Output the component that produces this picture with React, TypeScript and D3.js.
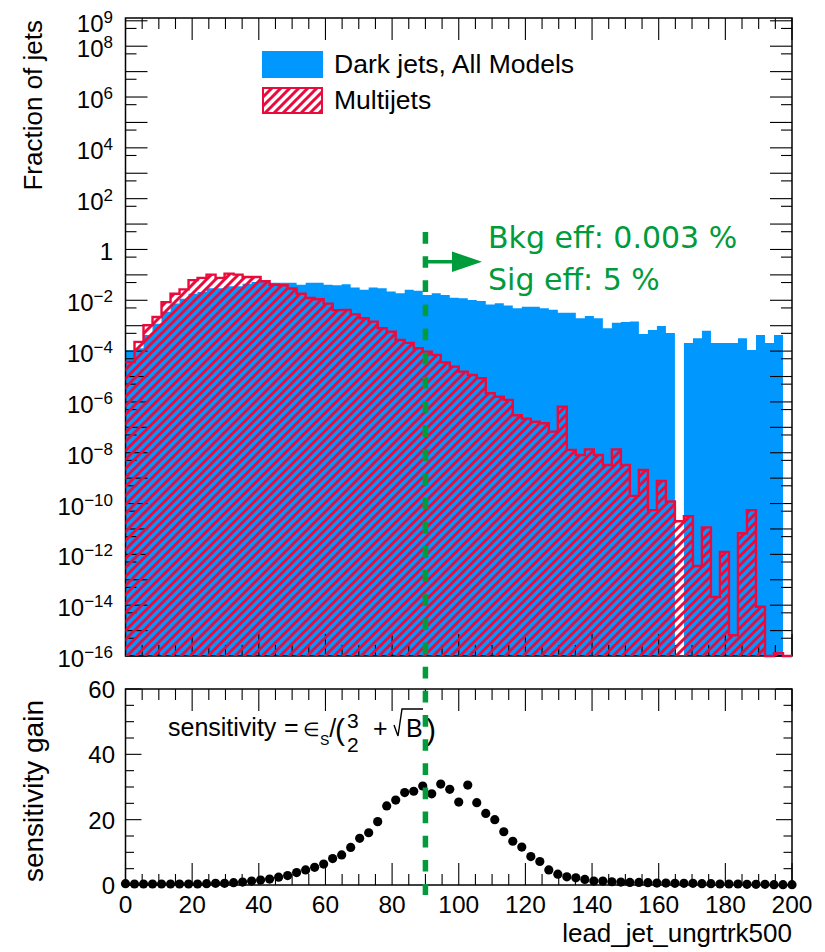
import React from "react";
import * as d3 from "d3";

// 74 bins from 0 to 200 in lead_jet_ungrtrk500
const nBins = 74;
const xMax = 200;

// fraction of jets per bin
const darkJets = [
  1.07e-4, 1.3e-4, 4.3e-4, 1.2e-3, 3.5e-3, 7.4e-3, 1.15e-2, 1.8e-2, 2.1e-2, 3.0e-2,
  3.0e-2, 3.6e-2, 3.6e-2, 4.5e-2, 5.2e-2, 5.6e-2, 4.9e-2, 4.9e-2, 4.9e-2, 4.1e-2,
  4.9e-2, 4.9e-2, 4.1e-2, 3.9e-2, 4.3e-2, 3.2e-2, 2.6e-2, 3.2e-2, 3.0e-2, 2.2e-2,
  1.9e-2, 2.6e-2, 2.4e-2, 1.6e-2, 1.9e-2, 1.6e-2, 1.26e-2, 1.2e-2, 1.02e-2, 9.3e-3,
  6.9e-3, 7.6e-3, 6.2e-3, 4.9e-3, 5.6e-3, 5.6e-3, 4.9e-3, 4.2e-3, 3.2e-3, 3.2e-3,
  1.95e-3, 2.4e-3, 1.95e-3, 7.9e-4, 1.3e-3, 1.4e-3, 1.45e-3, 4.7e-4, 6.8e-4, 9.8e-4,
  5.2e-4, 0, 2.1e-4, 3.2e-4, 6.3e-4, 2.1e-4, 2.1e-4, 2.1e-4, 3.2e-4, 1.1e-4,
  4.3e-4, 2.1e-4, 4.3e-4, 0,
];

const multijets = [
  3.7e-5, 2.3e-4, 1.05e-3, 2.2e-3, 8.5e-3, 1.8e-2, 2.7e-2, 6.2e-2, 7.6e-2, 0.102,
  7.6e-2, 0.112, 0.102, 8.3e-2, 8.3e-2, 5.6e-2, 4.1e-2, 3.9e-2, 2.9e-2, 1.8e-2,
  1.23e-2, 1.1e-2, 7.4e-3, 4.1e-3, 4.2e-3, 2.8e-3, 1.95e-3, 1.45e-3, 7.9e-4, 5.8e-4,
  2.75e-4, 2.1e-4, 1.3e-4, 9.5e-5, 7.1e-5, 3.6e-5, 2.45e-5, 1.55e-5, 1.15e-5, 8.5e-6,
  2.2e-6, 1.6e-6, 1.2e-6, 3.0e-7, 2.2e-7, 1.65e-7, 1.45e-7, 6.8e-8, 6.5e-7, 1.3e-8,
  8.1e-9, 1.35e-8, 8.1e-9, 3.3e-9, 1.35e-8, 3.3e-9, 2.0e-10, 2.1e-9, 5.5e-11, 7.8e-10,
  1.2e-10, 2.0e-11, 3.2e-11, 3.5e-13, 1.15e-11, 2.1e-14, 1.25e-12, 6.6e-16, 6.8e-12, 5.5e-11,
  8.7e-15, 0, 1.3e-16, 0,
];

// sensitivity gain at each cut value (75 cuts, 0..200)
const sensitivity = [
  0.4, 0.3, 0.3, 0.3, 0.3, 0.3, 0.3, 0.3, 0.3, 0.4,
  0.5, 0.5, 0.7, 0.9, 1.2, 1.5, 1.8, 2.4, 2.9, 3.8,
  4.6, 5.4, 6.4, 8.1, 9.2, 11.5, 14.3, 16.0, 19.4, 24.2,
  26.0, 28.3, 28.7, 30.3, 27.9, 30.9, 29.3, 25.4, 30.6, 25.2,
  21.9, 20.0, 16.3, 13.4, 11.6, 8.7, 7.2, 4.6, 3.3, 2.5,
  2.2, 1.7, 1.2, 1.2, 1.0, 0.9, 0.8, 0.8, 0.7, 0.6,
  0.6, 0.5, 0.5, 0.5, 0.4, 0.4, 0.3, 0.3, 0.3, 0.2,
  0.2, 0.2, 0.1, 0.1, 0.1,
];

const cutValue = 90;
const yLabelExps = [9, 8, 6, 4, 2, 0, -2, -4, -6, -8, -10, -12, -14, -16];
const xTickLabels = [0, 20, 40, 60, 80, 100, 120, 140, 160, 180, 200];
const sensTickLabels = [0, 20, 40, 60];
const legendLabels = ["Dark jets, All Models", "Multijets"];
const effLabels = ["Bkg eff: 0.003 %", "Sig eff: 5 %"];

const BLUE = "#0098ff";
const RED = "#ea0a3c";
const GREEN = "#009b3a";
const FONT = "'Liberation Sans', Arial, Helvetica, sans-serif";

// layout
const W = 825;
const H = 952;
const left = 125.5;
const right = 792;
const topY0 = 18;
const topY1 = 656;
const botY0 = 689;
const botY1 = 885;

const x = d3.scaleLinear().domain([0, xMax]).range([left, right]);
const yTop = d3.scaleLog().domain([1e-16, Math.pow(10, 9.11)]).range([topY1, topY0]);
const yBot = d3.scaleLinear().domain([0, 60]).range([botY1, botY0]);

type P = { x: number; v: number };

const edges = d3.range(nBins + 1).map((i) => (i * xMax) / nBins);
const stepPoints = (vals: number[]): P[] =>
  edges.map((e, i) => ({ x: e, v: vals[Math.min(i, vals.length - 1)] }));

const yVal = (v: number) => (v > 0 ? yTop(Math.max(v, 1e-16)) : topY1);

const area = d3
  .area<P>()
  .curve(d3.curveStepAfter)
  .x((d) => x(d.x))
  .y0(topY1)
  .y1((d) => yVal(d.v));

const line = d3
  .line<P>()
  .curve(d3.curveStepAfter)
  .x((d) => x(d.x))
  .y((d) => yVal(d.v));

const cuts = d3.range(sensitivity.length).map((k) => (k * xMax) / (sensitivity.length - 1));

const expText = (n: number) => (n < 0 ? "\u2212" + Math.abs(n) : String(n));

const XTicks = ({ y0, y1 }: { y0: number; y1: number }) => {
  const minor = d3.range(0, xMax + 1, 5);
  return (
    <g stroke="#000" strokeWidth={1.1}>
      {minor.map((t) => {
        const len = t % 20 === 0 ? 22 : 11;
        return (
          <g key={t}>
            <line x1={x(t)} x2={x(t)} y1={y1} y2={y1 - len} />
            <line x1={x(t)} x2={x(t)} y1={y0} y2={y0 + len} />
          </g>
        );
      })}
    </g>
  );
};

const App = () => {
  const blueD = area(stepPoints(darkJets)) || "";
  const redD = area(stepPoints(multijets)) || "";
  const redLine = line(stepPoints(multijets)) || "";

  const majorY = d3.range(-16, 10).map((n) => Math.pow(10, n));
  const minorY = d3.range(-16, 9).map((n) => 5 * Math.pow(10, n));
  const xc = x(cutValue);

  return (
    <svg
      width={W}
      height={H}
      style={{ position: "absolute", left: 0, top: 0, background: "#fff" }}
      fontFamily={FONT}
    >
      <defs>
        <pattern id="hatch" patternUnits="userSpaceOnUse" width={9} height={9}>
          <path d="M-2,2 l4,-4 M0,9 l9,-9 M7,11 l4,-4" stroke={RED} strokeWidth={3} />
        </pattern>
      </defs>
      <rect width={W} height={H} fill="#fff" />

      {/* top panel */}
      <path d={blueD} fill={BLUE} />
      <g stroke="#000" strokeWidth={1.1}>
        {majorY.map((v, i) => (
          <g key={"M" + i}>
            <line x1={left} x2={left + 22} y1={yTop(v)} y2={yTop(v)} />
            <line x1={right} x2={right - 22} y1={yTop(v)} y2={yTop(v)} />
          </g>
        ))}
        {minorY.map((v, i) => (
          <g key={"m" + i}>
            <line x1={left} x2={left + 11} y1={yTop(v)} y2={yTop(v)} />
            <line x1={right} x2={right - 11} y1={yTop(v)} y2={yTop(v)} />
          </g>
        ))}
      </g>
      <XTicks y0={topY0} y1={topY1} />
      <rect x={left} y={topY0} width={right - left} height={topY1 - topY0} fill="none" stroke="#000" strokeWidth={1.5} />
      <path d={redD} fill="url(#hatch)" />
      <path d={redLine} fill="none" stroke={RED} strokeWidth={2.4} />

      {yLabelExps.map((n) => (
        <text key={n} x={113} y={yTop(Math.pow(10, n)) + 11} textAnchor="end" fontSize={24}>
          {n === 0 ? (
            "1"
          ) : (
            <>
              <tspan>10</tspan>
              <tspan dy={-9} fontSize={17}>
                {expText(n)}
              </tspan>
            </>
          )}
        </text>
      ))}
      <text transform="translate(42,20) rotate(-90)" textAnchor="end" fontSize={26}>
        Fraction of jets
      </text>

      {/* legend */}
      <rect x={262} y={51} width={61} height={27} fill={BLUE} />
      <rect x={263} y={88} width={59} height={25} fill="url(#hatch)" stroke={RED} strokeWidth={2} />
      <text x={334} y={73} fontSize={26.5}>
        {legendLabels[0]}
      </text>
      <text x={334} y={109} fontSize={26.5}>
        {legendLabels[1]}
      </text>

      {/* bottom panel */}
      <g stroke="#000" strokeWidth={1.1}>
        {d3.range(0, 61, 5).map((t) => {
          const len = t % 20 === 0 ? 16 : 8.5;
          return (
            <g key={t}>
              <line x1={left} x2={left + len} y1={yBot(t)} y2={yBot(t)} />
              <line x1={right} x2={right - len} y1={yBot(t)} y2={yBot(t)} />
            </g>
          );
        })}
      </g>
      <XTicks y0={botY0} y1={botY1} />
      <rect x={left} y={botY0} width={right - left} height={botY1 - botY0} fill="none" stroke="#000" strokeWidth={1.5} />
      {sensitivity.map((s, k) => (
        <circle key={k} cx={x(cuts[k])} cy={yBot(s)} r={4.6} fill="#000" />
      ))}
      {sensTickLabels.map((t) => (
        <text key={t} x={115} y={yBot(t) + 9} textAnchor="end" fontSize={24}>
          {t}
        </text>
      ))}
      {xTickLabels.map((t) => (
        <text key={t} x={x(t)} y={913} textAnchor="middle" fontSize={24.5}>
          {t}
        </text>
      ))}
      <text x={right} y={942} textAnchor="end" fontSize={26}>
        lead_jet_ungrtrk500
      </text>
      <text transform="translate(43,700) rotate(-90)" textAnchor="end" fontSize={28}>
        sensitivity gain
      </text>

      {/* formula */}
      <g fontSize={25}>
        <text x={168} y={736}>sensitivity</text>
        <text x={284} y={736}>=</text>
        <text x={303} y={736} fontSize={19}>
          {"\u2208"}
          <tspan dy={9} fontSize={14}>S</tspan>
          <tspan dy={-8} fontSize={25}>/</tspan>
        </text>
        <text x={335} y={740} fontSize={30}>(</text>
        <text x={347} y={728} fontSize={21}>3</text>
        <text x={347} y={752} fontSize={21}>2</text>
        <text x={373} y={737}>+</text>
        <path d="M394,725 L398,736 L402,709 L423,709" fill="none" stroke="#000" strokeWidth={1.4} />
        <text x={406} y={737}>B</text>
        <text x={426} y={740} fontSize={30}>)</text>
      </g>

      {/* cut line and annotation */}
      <line x1={xc} x2={xc} y1={232} y2={895} stroke={GREEN} strokeWidth={5.5} strokeDasharray="11.7 12.45" />
      <line x1={xc} x2={458} y1={261.7} y2={261.7} stroke={GREEN} strokeWidth={3.4} />
      <polygon points="452,251.5 452,272 482,261.7" fill={GREEN} />
      <g fill={GREEN} fontFamily="'Comic Sans MS', 'DejaVu Sans', sans-serif" fontSize={30}>
        <text x={488} y={248}>{effLabels[0]}</text>
        <text x={488} y={290}>{effLabels[1]}</text>
      </g>
    </svg>
  );
};

export default App;
